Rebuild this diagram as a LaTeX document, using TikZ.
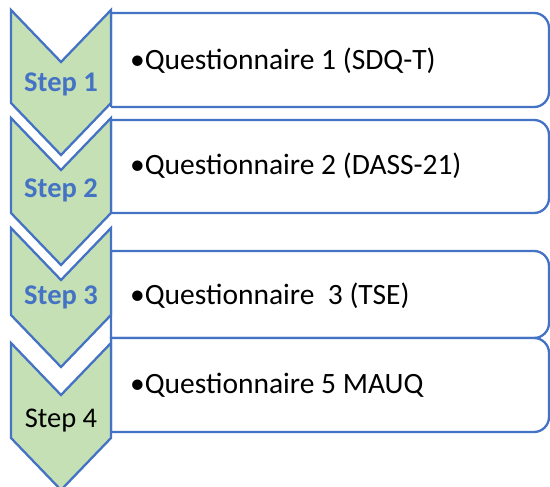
\documentclass[tikz,border=0pt]{standalone}
\usepackage{fontspec}
\setmainfont{Carlito}
\usetikzlibrary{positioning}
\definecolor{stepblue}{HTML}{4472C4}
\definecolor{stepgreen}{HTML}{C5E0B4}

\begin{document}
\begin{tikzpicture}[x=1pt, y=-1pt,
        chevron/.style={draw=stepblue, fill=stepgreen, line width=2.3pt, line join=miter},
        itembox/.style={draw=stepblue, fill=white, line width=2.3pt},
        steplabel/.style={font=\fontsize{28.5}{34}\selectfont\bfseries, text=stepblue, anchor=base, inner sep=0pt},
        itemlabel/.style={font=\fontsize{29.5}{35}\selectfont, anchor=base west, inner sep=0pt}]
        \useasboundingbox (0,0) rectangle (550,487);

        % Boxes on the right (top, bottom, text baseline)
        \foreach \i/\top/\bot/\base/\txt in {1/13/107/70/{Questionnaire 1 (SDQ-T)},
                2/120/213/175/{Questionnaire 2 (DASS-21)},
                3/251/338/305/{Questionnaire~~3 (TSE)},
                4/338/432/393/{Questionnaire 5 MAUQ}} {
            \draw[itembox] (111,\bot) -- (111,\top) [rounded corners=15pt] -- (549,\top) -- (549,\bot) -- (111,\bot);
            \node[itemlabel] (q\i) at (130,\base) {\textbullet\txt};
        }

        % Chevrons on the left (top, end of sides)
        \foreach \i/\top/\side in {1/10/103, 2/118/213, 3/228/315, 4/343/438} {
            \draw[chevron] (11,\top) -- (61,\top+52) -- (111,\top) -- (111,\side) -- (61,\side+52) -- (11,\side) -- cycle;
        }

        % Step labels
        \node[steplabel] (step1) at (61,92) {Step 1};
        \node[steplabel] (step2) at (61,197) {Step 2};
        \node[steplabel] (step3) at (61,305) {Step 3};
        \node[steplabel, font=\fontsize{28.5}{34}\selectfont, text=black] (step4) at (61,427) {Step 4};
    \end{tikzpicture}
\end{document}
